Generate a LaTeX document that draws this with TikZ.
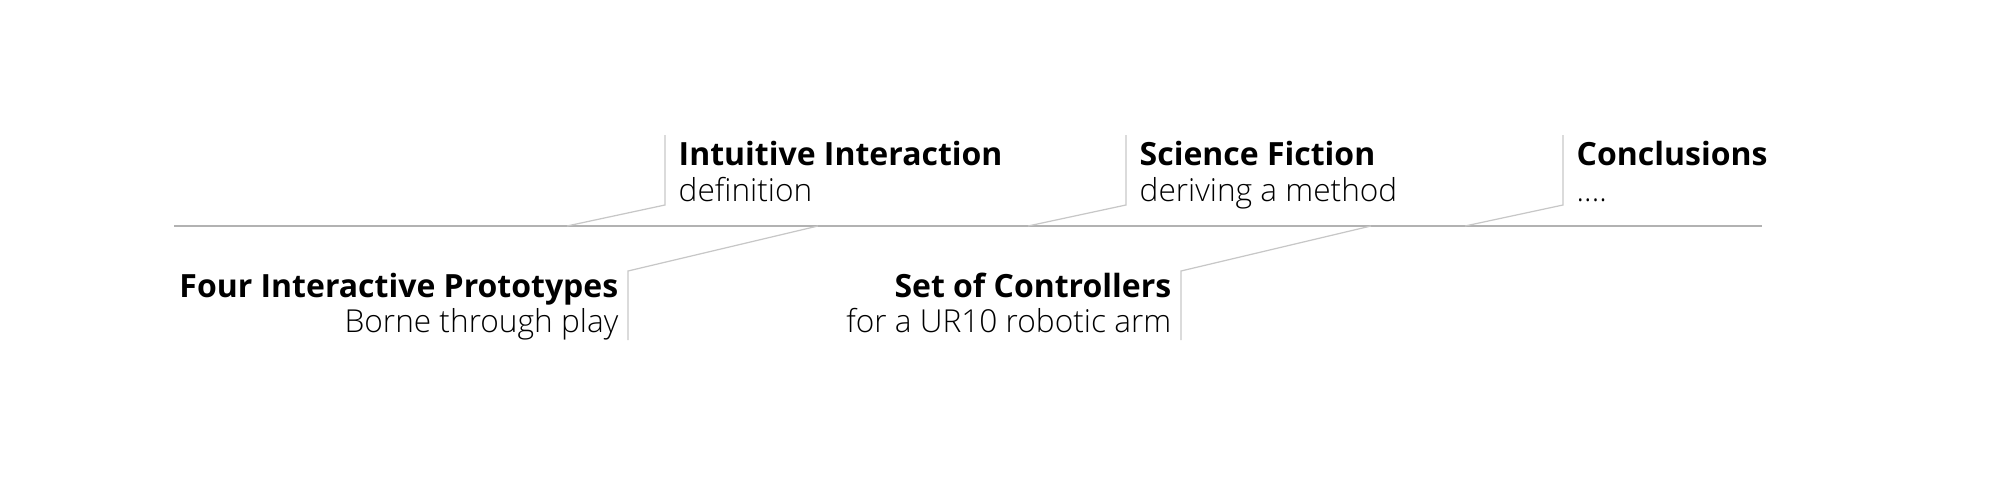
\documentclass[tikz,border=0pt]{standalone}
\usepackage{fontspec}
\setmainfont{Open Sans}
\newfontfamily\lightfont{Open Sans Light}
\usetikzlibrary{positioning,calc}

\tikzset{
  axis/.style={draw=black!30,line width=0.45pt},
  callout/.style={draw=black!22,line width=0.35pt},
  heading/.style={inner sep=0pt,font=\fontsize{9.1}{10}\selectfont\bfseries},
  subheading/.style={inner sep=0pt,font=\fontsize{9}{10}\selectfont\lightfont},
}

\begin{document}
\begin{tikzpicture}
\useasboundingbox (0,0) rectangle (20,4.96);
% timeline
\coordinate (t0) at (1.74,2.70);
\coordinate (t1) at (17.62,2.70);
\draw[axis] (t0) -- (t1);

% callouts above the line
\foreach \name/\x in {ii/6.65,sf/11.26,cc/15.63}{
  \coordinate (\name-top) at (\x,3.61);
  \coordinate (\name-knee) at (\x,2.91);
  \coordinate (\name-foot) at (\x-0.98,2.70);
  \draw[callout] (\name-foot) -- (\name-knee) -- (\name-top);
}
% callouts below the line
\foreach \name/\x/\f in {fp/6.28/8.18,sc/11.81/13.71}{
  \coordinate (\name-knee) at (\x,2.25);
  \coordinate (\name-bot) at (\x,1.56);
  \coordinate (\name-foot) at (\f,2.70);
  \draw[callout] (\name-foot) -- (\name-knee) -- (\name-bot);
}

\node (ii) [heading,below right=0.30 and 0.13 of ii-top,anchor=base west] {Intuitive Interaction};
\node (ii-sub) [subheading,below=0.36 of ii.base west,anchor=base west] {definition};
\node (sf) [heading,below right=0.30 and 0.13 of sf-top,anchor=base west] {Science Fiction};
\node (sf-sub) [subheading,below=0.36 of sf.base west,anchor=base west] {deriving a method};
\node (cc) [heading,below right=0.30 and 0.13 of cc-top,anchor=base west] {Conclusions};
\node (cc-sub) [subheading,below=0.36 of cc.base west,anchor=base west] {....};

\node (fp) [heading,below left=0.26 and 0.09 of fp-knee,anchor=base east] {Four Interactive Prototypes};
\node (fp-sub) [subheading,below=0.35 of fp.base east,anchor=base east] {Borne through play};
\node (sc) [heading,below left=0.26 and 0.09 of sc-knee,anchor=base east] {Set of Controllers};
\node (sc-sub) [subheading,below=0.35 of sc.base east,anchor=base east] {for a UR10 robotic arm};
\end{tikzpicture}
\end{document}
